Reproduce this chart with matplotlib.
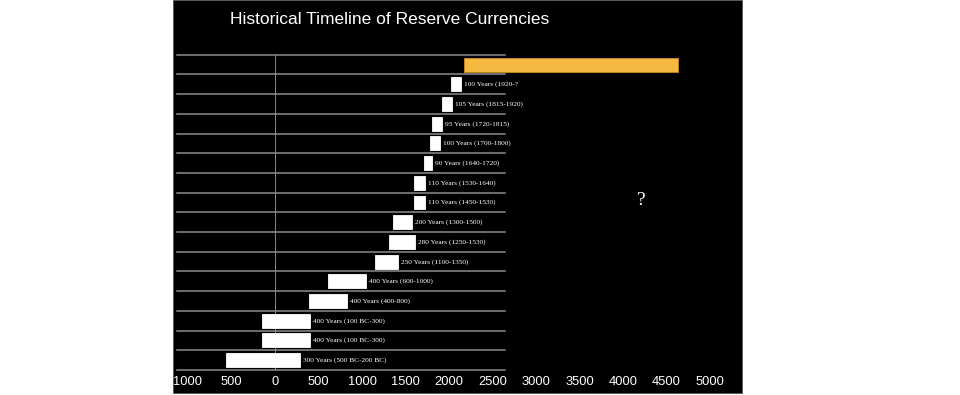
import matplotlib
matplotlib.use("Agg")
import matplotlib.pyplot as plt
from matplotlib.patches import Rectangle

# ---- data (years) ----
rows = list(range(16))
bar_start = [2172, 2023, 1916, 1808, 1785, 1716, 1601, 1601, 1359, 1307, 1146, 606, 394, -146, -146, -567]
bar_end   = [4635, 2134, 2031, 1916, 1896, 1808, 1727, 1727, 1578, 1609, 1417, 1042, 827, 399, 399, 287]
bar_labels = ["", "100 Years (1920-?", "105 Years (1815-1920)", "95 Years (1720-1815)",
              "100 Years (1700-1800)", "90 Years (1640-1720)", "110 Years (1530-1640)",
              "110 Years (1450-1530)", "200 Years (1300-1500)", "280 Years (1250-1530)",
              "250 Years (1100-1350)", "400 Years (600-1000)", "400 Years (400-800)",
              "400 Years (100 BC-300)", "400 Years (100 BC-300)", "300 Years (500 BC-200 BC)"]
bar_colors = ["#F5B841"] + ["#FFFFFF"] * 15
tick_values = list(range(-1000, 5001, 500))
tick_labels = [str(abs(v)) for v in tick_values]
title = "Historical Timeline of Reserve Currencies"

W, H = 960, 395
fig = plt.figure(figsize=(W / 100, H / 100), dpi=100, facecolor="white")

# black panel
fig.patches.append(Rectangle((173 / W, 2 / H), (742 - 173) / W, 393 / H,
                             transform=fig.transFigure, facecolor="black",
                             edgecolor="#555555", lw=0.6, zorder=-5))

ax_left, ax_right = 173, 742
ax_top, ax_bot = 54.7, 370.0
ax = fig.add_axes([ax_left / W, 1 - ax_bot / H, (ax_right - ax_left) / W, (ax_bot - ax_top) / H])
ax.set_zorder(2)
ax.set_facecolor("none")
for s in ax.spines.values():
    s.set_visible(False)

px_per_year = 0.08702
zero_px = 275.0
ax.set_xlim((ax_left - zero_px) / px_per_year, (ax_right - zero_px) / px_per_year)
ax.set_ylim(15.5, -0.5)

# grid lines at row boundaries
gx0 = (177 - ax_left) / (ax_right - ax_left)
gx1 = (505 - ax_left) / (ax_right - ax_left)
for b in [r - 0.5 for r in rows] + [15.5]:
    ax.axhline(b, xmin=gx0, xmax=gx1, color="#8c8c8c", lw=1.1, clip_on=False, zorder=1)
ax.axvline(0, color="#8a8a8a", lw=0.7, zorder=1)

widths = [e - s for s, e in zip(bar_start, bar_end)]
edgecols = ["#C98A22"] + ["#FFFFFF"] * 15
ax.barh(rows, widths, left=bar_start, height=0.71, color=bar_colors,
        edgecolor=edgecols, linewidth=0.6, zorder=2)

for r, e, lab in zip(rows, bar_end, bar_labels):
    if lab:
        ax.annotate(lab, (e, r), xytext=(2.2, 0), textcoords="offset points",
                    ha="left", va="center", color="white", fontsize=5.3,
                    family=["Liberation Serif", "DejaVu Serif"], zorder=3)

ax.text((641 - zero_px) / px_per_year, 6.88, "?", ha="center", va="center",
        color="white", fontsize=14, family=["Liberation Serif", "DejaVu Serif"])

ax.set_yticks([])
ax.set_xticks(tick_values)
ax.set_xticklabels(tick_labels)
ax.tick_params(axis="x", length=0, pad=4.0, labelcolor="white", labelsize=9.3)
for t in ax.get_xticklabels():
    t.set_family(["Liberation Sans", "DejaVu Sans"])

fig.text(390 / W, 1 - 19 / H, title, ha="center", va="center", color="white",
         fontsize=12.5, family=["Liberation Sans", "DejaVu Sans"])

fig.savefig("out.png", dpi=100, facecolor="white")
